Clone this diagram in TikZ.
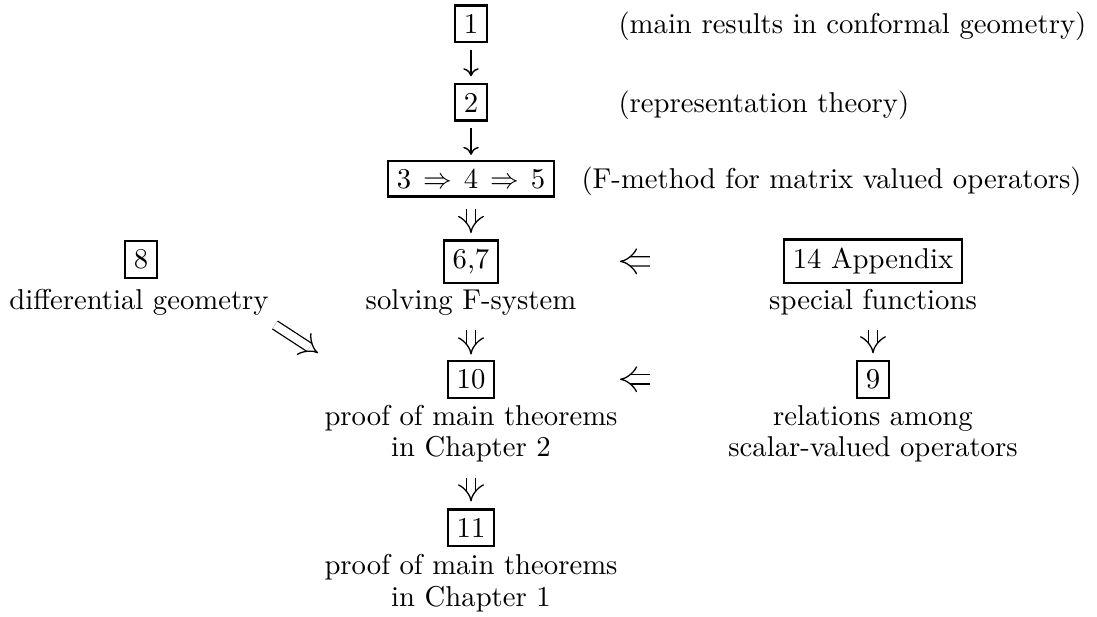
\documentclass[tikz,border=0pt]{standalone}
\usetikzlibrary{arrows.meta}
\tikzset{
  boxnode/.style={draw, line width=0.8pt, inner sep=3pt, anchor=base},
  lbl/.style={inner sep=0pt, anchor=base},
  sgl/.style={line width=0.5pt, -{To[length=2.8pt,width=5.4pt]}},
  dbl/.style={double, double distance=2.8pt, line width=0.45pt, -{Implies[length=3.1pt,width=7.2pt]}},
}
\begin{document}
\begin{tikzpicture}[x=0.3484pt, y=-0.3484pt]
\useasboundingbox (0,0) rectangle (1097,616);
% main column
\node[boxnode] (n1) at (471,33.2) {1};
\node[lbl, anchor=base west] (t1) at (618,33.2) {(main results in conformal geometry)};
\node[boxnode] (n2) at (471,112) {2};
\node[lbl, anchor=base west] (t2) at (618,112) {(representation theory)};
\node[boxnode] (n345) at (471,188) {$3\mskip2.5mu\Rightarrow\mskip2.5mu4\mskip2.5mu\Rightarrow\mskip2.5mu5$};
\node[lbl, anchor=base west] (t3) at (581,188) {(F-method for matrix valued operators)};
\node[boxnode] (n8) at (141,268.5) {8};
\node[lbl] (l8) at (139,309.5) {differential geometry};
\node[boxnode] (n67) at (471,268.5) {6,7};
\node[lbl] (l67) at (471,309.5) {solving F-system};
\node[boxnode] (napp) at (873,268.5) {14 Appendix};
\node[lbl] (lapp) at (873,309.5) {special functions};
\node[boxnode] (n10) at (471,388.5) {10};
\node[lbl] (l10a) at (471,425.5) {proof of main theorems};
\node[lbl] (l10b) at (471,456.5) {in Chapter 2};
\node[boxnode] (n9) at (873,388.5) {9};
\node[lbl] (l9a) at (873,425.5) {relations among};
\node[lbl] (l9b) at (873,456) {scalar-valued operators};
\node[boxnode] (n11) at (471,537.2) {11};
\node[lbl] (l11a) at (471,574) {proof of main theorems};
\node[lbl] (l11b) at (471,606) {in Chapter 1};
% connectors
\draw[sgl, shorten <=2.4pt, shorten >=2.4pt] (n1) -- (n2);
\draw[sgl, shorten <=2.2pt, shorten >=1.7pt] (n2) -- (n345);
\draw[dbl, shorten <=3.9pt, shorten >=2.2pt] (n345) -- (n67);
\draw[dbl, shorten <=5.0pt, shorten >=1.8pt] (l67) -- (n10);
\draw[dbl, shorten <=5.2pt, shorten >=2.4pt] (l10b) -- (n11);
\draw[dbl, shorten <=5.0pt, shorten >=2.2pt] (lapp) -- (n9);
\draw[dbl, shorten <=46.4pt, shorten >=42.1pt] (napp) -- (n67);
\draw[dbl, shorten <=71.7pt, shorten >=43.5pt] (n9) -- (n10);
\coordinate (dgA) at (275,325);
\coordinate (dgB) at (318,353);
\draw[dbl] (dgA) -- (dgB);
\end{tikzpicture}
\end{document}
